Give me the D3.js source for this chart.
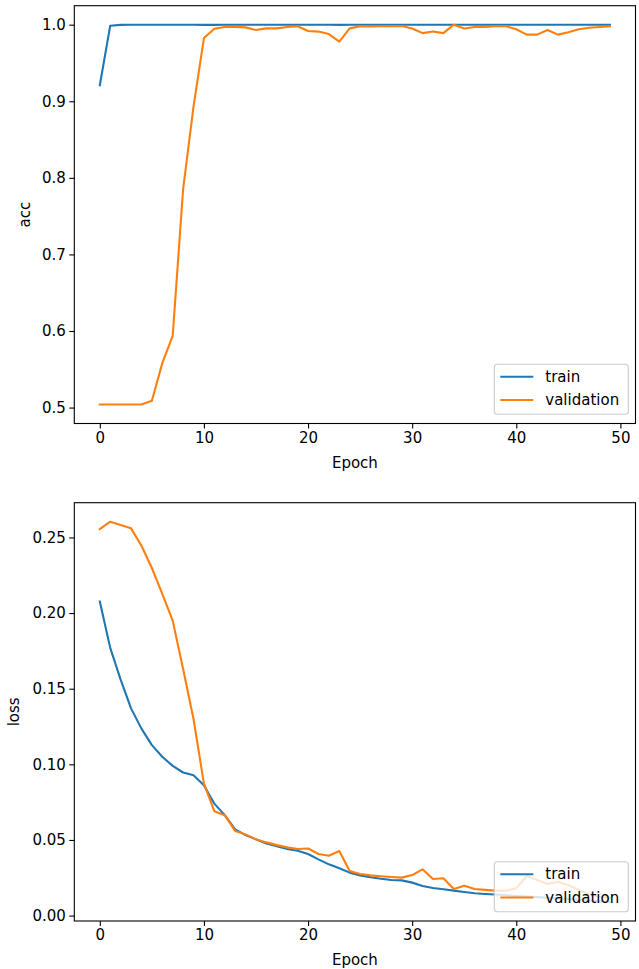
<!DOCTYPE html>
<html>
<head>
<meta charset="utf-8">
<script src="https://cdn.jsdelivr.net/npm/d3@7"></script>
<style>
  html, body { margin: 0; padding: 0; background: #fff; }
  svg { display: block; font-family: "DejaVu Sans", sans-serif; }
</style>
</head>
<body>
<svg id="chart" width="639" height="969"></svg>
<script>
const epochs = d3.range(50);

const trainAcc = [0.9209, 0.9987, 0.9997, 0.9999, 1.0, 1.0, 1.0, 1.0, 1.0, 1.0,
  0.9998, 0.9998, 0.9999, 1.0, 1.0, 1.0, 1.0, 1.0, 1.0, 1.0,
  0.9999, 1.0, 1.0, 0.9998, 0.9999, 1.0, 1.0, 1.0, 1.0, 1.0,
  0.9999, 0.9999, 1.0, 1.0, 1.0, 1.0, 1.0, 1.0, 1.0, 1.0,
  1.0, 1.0, 1.0, 0.9999, 1.0, 1.0, 1.0, 1.0, 1.0, 1.0];

const valAcc = [0.504, 0.504, 0.504, 0.504, 0.504, 0.509, 0.558, 0.5936, 0.785, 0.893,
  0.9825, 0.9948, 0.9969, 0.9971, 0.9965, 0.993, 0.9952, 0.9952, 0.997, 0.998,
  0.9917, 0.991, 0.9878, 0.978, 0.9952, 0.998, 0.9977, 0.998, 0.998, 0.9983,
  0.995, 0.989, 0.991, 0.989, 1.0, 0.995, 0.997, 0.997, 0.998, 0.998,
  0.994, 0.987, 0.987, 0.993, 0.987, 0.990, 0.994, 0.996, 0.997, 0.998];

const trainLoss = [0.2076, 0.177, 0.156, 0.137, 0.1236, 0.1127, 0.105, 0.0990, 0.0946, 0.0928,
  0.0862, 0.0740, 0.0664, 0.0570, 0.0532, 0.0504, 0.0477, 0.0458, 0.0440, 0.0429,
  0.0407, 0.0372, 0.0339, 0.0313, 0.0284, 0.0266, 0.0253, 0.0244, 0.0235, 0.0233,
  0.0218, 0.0196, 0.0183, 0.0174, 0.0165, 0.0156, 0.0148, 0.0143, 0.0139, 0.0135,
  0.0130, 0.0126, 0.0122, 0.0118, 0.0114, 0.0110, 0.0104, 0.0099, 0.0094, 0.0090];

const valLoss = [0.2555, 0.2604, 0.2582, 0.2560, 0.2445, 0.2298, 0.2127, 0.1950, 0.1630, 0.1300,
  0.0873, 0.0690, 0.0664, 0.0560, 0.0537, 0.0504, 0.0484, 0.0466, 0.0451, 0.0440,
  0.0444, 0.0407, 0.0396, 0.0427, 0.0295, 0.0275, 0.0266, 0.0260, 0.0255, 0.0251,
  0.0268, 0.0306, 0.0242, 0.0247, 0.0176, 0.0198, 0.0176, 0.0170, 0.0165, 0.0165,
  0.0180, 0.0262, 0.0235, 0.0209, 0.0224, 0.0202, 0.0170, 0.0140, 0.0125, 0.0115];

const xTicks = [0, 10, 20, 30, 40, 50];
const accTicks = [0.5, 0.6, 0.7, 0.8, 0.9, 1.0];
const lossTicks = [0.00, 0.05, 0.10, 0.15, 0.20, 0.25];
const seriesNames = ["train", "validation"];
const colors = ["#1f77b4", "#ff7f0e"];

const svg = d3.select("#chart");
const FS = 15;

function padDomain(arrs) {
  const all = arrs.flat();
  const lo = d3.min(all), hi = d3.max(all);
  const m = (hi - lo) * 0.05;
  return [lo - m, hi + m];
}

function panel(opts) {
  const { top, bottom, left, right, series, yTicks, yFmt, yLabel, yLabelX } = opts;
  const xDom = [-0.05 * 49, 49 + 0.05 * 49];
  const x = d3.scaleLinear().domain(xDom).range([left, right]);
  const y = d3.scaleLinear().domain(padDomain(series)).range([bottom, top]);
  const g = svg.append("g");

  const line = d3.line().x((d, i) => x(epochs[i])).y(d => y(d));
  series.forEach((s, k) => {
    g.append("path").datum(s)
      .attr("fill", "none")
      .attr("stroke", colors[k])
      .attr("stroke-width", 2.1)
      .attr("stroke-linejoin", "round")
      .attr("stroke-linecap", "square")
      .attr("d", line);
  });

  const xAxis = d3.axisBottom(x).tickValues(xTicks).tickFormat(d3.format("d"))
    .tickSize(5).tickPadding(3.5);
  const yAxis = d3.axisLeft(y).tickValues(yTicks).tickFormat(yFmt)
    .tickSize(5).tickPadding(3.5);
  const gx = g.append("g").attr("transform", `translate(0,${bottom})`).call(xAxis);
  const gy = g.append("g").attr("transform", `translate(${left},0)`).call(yAxis);
  [gx, gy].forEach(a => {
    a.select(".domain").remove();
    a.selectAll(".tick line").attr("stroke", "#000").attr("stroke-width", 1.1);
    a.selectAll(".tick text").attr("font-size", FS)
      .attr("font-family", "DejaVu Sans, sans-serif").attr("fill", "#000");
  });

  g.append("rect")
    .attr("x", left).attr("y", top)
    .attr("width", right - left).attr("height", bottom - top)
    .attr("fill", "none").attr("stroke", "#000").attr("stroke-width", 1.1);

  g.append("text")
    .attr("x", (left + right) / 2).attr("y", bottom + 44)
    .attr("text-anchor", "middle").attr("font-size", FS).text("Epoch");
  g.append("text")
    .attr("transform", `translate(${yLabelX},${(top + bottom) / 2}) rotate(-90)`)
    .attr("text-anchor", "middle").attr("font-size", FS).text(yLabel);

  const lx = 494.3, lw = 134, lh = 50;
  const ly = bottom - 9.3 - lh;
  const lg = g.append("g");
  lg.append("rect")
    .attr("x", lx).attr("y", ly).attr("width", lw).attr("height", lh)
    .attr("rx", 3).attr("ry", 3)
    .attr("fill", "#fff").attr("fill-opacity", 0.8)
    .attr("stroke", "#cccccc").attr("stroke-width", 1.1);
  seriesNames.forEach((name, k) => {
    const cy = ly + 12.5 + k * 23.3;
    lg.append("line")
      .attr("x1", lx + 6).attr("x2", lx + 39)
      .attr("y1", cy).attr("y2", cy)
      .attr("stroke", colors[k]).attr("stroke-width", 2.1);
    lg.append("text")
      .attr("x", lx + 51).attr("y", cy).attr("dy", "0.35em")
      .attr("font-size", FS).text(name);
  });
}

panel({
  top: 5.7, bottom: 423.5, left: 74.3, right: 635.5,
  series: [trainAcc, valAcc], yTicks: accTicks, yFmt: d3.format(".1f"),
  yLabel: "acc", yLabelX: 30
});

panel({
  top: 502.7, bottom: 921, left: 74.3, right: 635.5,
  series: [trainLoss, valLoss], yTicks: lossTicks, yFmt: d3.format(".2f"),
  yLabel: "loss", yLabelX: 19
});
</script>
</body>
</html>
